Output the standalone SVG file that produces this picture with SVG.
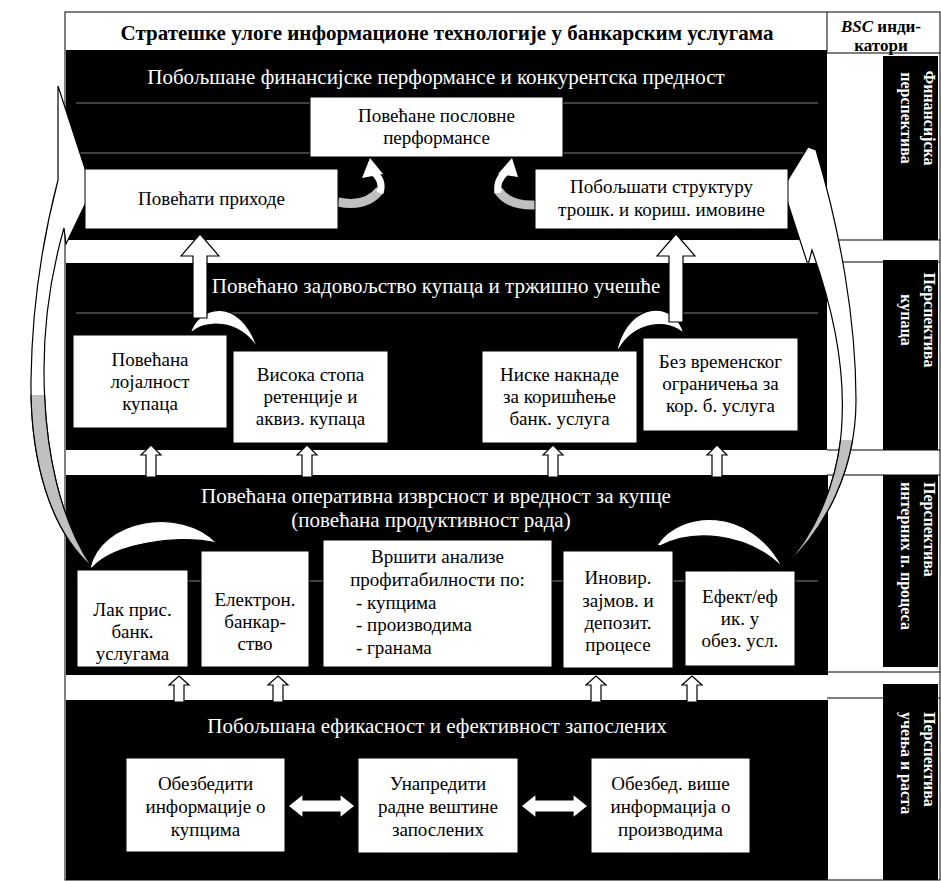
<svg xmlns="http://www.w3.org/2000/svg" width="941" height="881" viewBox="0 0 941 881">
<style>
.f{font-family:"Liberation Serif","Times New Roman",serif}
.ttl{font-size:21px;fill:#fff;text-anchor:middle}
.bt{font-size:19px;fill:#000;text-anchor:middle}
.bl{font-size:19px;fill:#000;text-anchor:start}
.bx{fill:#fff;stroke:#000;stroke-width:1}
.lbl{font-size:16px;font-weight:bold;fill:#fff}
.gl{stroke:#808080;stroke-width:1}
.ln{stroke:#000;stroke-width:1}
.wa{fill:#fff;stroke:#000;stroke-width:1.2;stroke-linejoin:miter}
.gr{fill:#c0c0c0;stroke:#000;stroke-width:1.2}
</style>
<defs>
<clipPath id="cl"><rect x="0" y="395" width="120" height="200"/></clipPath>
<clipPath id="cr"><rect x="760" y="440" width="120" height="160"/></clipPath>
</defs>
<rect x="0" y="0" width="941" height="881" fill="#fff"/>
<g id="frame">
<rect x="65" y="12" width="875" height="868" fill="none" class="ln"/>
<line x1="827" y1="12" x2="827" y2="53" class="ln"/>
<line x1="827" y1="53" x2="940" y2="53" class="ln"/>
<text class="f" x="447" y="40" font-size="21" font-weight="bold" text-anchor="middle">Стратешке улоге информационе технологије у банкарским услугама</text>
<text class="f" x="881" y="32" font-size="17" font-weight="bold" text-anchor="middle"><tspan font-style="italic">BSC</tspan> инди-</text>
<text class="f" x="881" y="51" font-size="17" font-weight="bold" text-anchor="middle">катори</text>
<rect x="66" y="50" width="761" height="190" fill="#000"/>
<rect x="66" y="263" width="761" height="187" fill="#000"/>
<rect x="66" y="475" width="762" height="200" fill="#000"/>
<rect x="66" y="700" width="762" height="180" fill="#000"/>
<rect x="883" y="56" width="55" height="184" fill="#000"/>
<rect x="883" y="260" width="55" height="190" fill="#000"/>
<rect x="883" y="475" width="55" height="192" fill="#000"/>
<rect x="883" y="684" width="55" height="196" fill="#000"/>
<line x1="827" y1="240" x2="940" y2="240" class="ln"/>
<line x1="827" y1="262" x2="940" y2="262" class="ln"/>
<line x1="827" y1="450" x2="940" y2="450" class="ln"/>
<line x1="827" y1="475" x2="940" y2="475" class="ln"/>
<line x1="827" y1="672" x2="940" y2="672" class="ln"/>
<line x1="827" y1="698" x2="940" y2="698" class="ln"/>
<line x1="76" y1="103" x2="818" y2="103" class="gl"/>
<line x1="76" y1="153" x2="818" y2="153" class="gl"/>
<line x1="76" y1="313" x2="818" y2="313" class="gl"/>
<line x1="76" y1="581" x2="818" y2="581" class="gl"/>
</g>
<g id="labels" class="f">
<text class="lbl" transform="translate(924,118) rotate(90)" text-anchor="middle">Финансијска</text>
<text class="lbl" transform="translate(901,118) rotate(90)" text-anchor="middle">перспектива</text>
<text class="lbl" transform="translate(924,320) rotate(90)" text-anchor="middle">Перспектива</text>
<text class="lbl" transform="translate(901,320) rotate(90)" text-anchor="middle">купаца</text>
<text class="lbl" transform="translate(924,482) rotate(90)">Перспектива</text>
<text class="lbl" transform="translate(901,482) rotate(90)">интерних п. процеса</text>
<text class="lbl" transform="translate(924,712) rotate(90)">Перспектива</text>
<text class="lbl" transform="translate(901,712) rotate(90)">учења и раста</text>
</g>
<g id="titles" class="f">
<text class="ttl" x="436" y="84">Побољшане финансијске перформансе и конкурентска предност</text>
<text class="ttl" x="436" y="293">Повећано задовољство купаца и тржишно учешће</text>
<text class="ttl" x="436" y="503">Повећана оперативна изврсност и вредност за купце</text>
<text class="ttl" x="431" y="527">(повећана продуктивност рада)</text>
<text class="ttl" x="437" y="733">Побољшана ефикасност и ефективност запослених</text>
</g>
<g id="connectors">
<path class="wa" d="M 58,86 L 92,190 L 66,244 L 64,228 C 52,270 44,320 44,370 C 44,450 60,520 92,567 C 50,530 30,460 31,380 C 32,300 45,230 58,180 Z"/>
<path class="gr" clip-path="url(#cl)" d="M 64,228 C 52,270 44,320 44,370 C 44,450 60,520 92,567 C 50,530 30,460 31,380 C 32,300 45,230 58,180 Z"/>
<path class="wa" d="M 808,147 L 783,188 L 808,265 L 812,250 C 830,300 845,360 842,420 C 840,480 815,535 783,568 C 825,530 856,470 856,400 C 856,320 840,230 816,150 Z"/>
<path class="gr" clip-path="url(#cr)" d="M 812,250 C 830,300 845,360 842,420 C 840,480 815,535 783,568 C 825,530 856,470 856,400 C 856,320 840,230 816,150 Z"/>
<path d="M 338,202 Q 366,208 380,190" stroke="#c0c0c0" stroke-width="9" fill="none"/>
<path d="M 380,193 Q 384,180 373,172" stroke="#fff" stroke-width="7" fill="none"/>
<polygon points="362,178 370,158 383,174" fill="#fff"/>
<path d="M 535,205 Q 508,206 498,190" stroke="#c0c0c0" stroke-width="9" fill="none"/>
<path d="M 498,193 Q 496,180 506,172" stroke="#fff" stroke-width="7" fill="none"/>
<polygon points="498,174 512,158 518,177" fill="#fff"/>
<path class="wa" d="M 190,334 C 198,305 240,295 258,349 C 240,320 205,318 190,334 Z"/>
<polygon class="wa" points="200,234 219,256 207,256 207,318 193,318 193,256 181,256"/>
<path class="wa" d="M 617,349 C 630,300 675,300 684,334 C 668,318 635,322 619,349 Z"/>
<polygon class="wa" points="676,234 695,256 683,256 683,322 669,322 669,256 657,256"/>
<path class="wa" d="M 90,568 C 100,520 180,505 217,543 C 180,535 115,542 92,568 Z"/>
<path class="wa" d="M 657,545 C 680,510 750,505 783,568 C 745,530 690,530 660,546 Z"/>
<g id="smallup1">
<polygon class="wa" points="151,445 161,455 156,455 156,477 146,477 146,455 141,455"/>
<polygon class="wa" points="307,445 317,455 312,455 312,477 302,477 302,455 297,455"/>
<polygon class="wa" points="553,445 563,455 558,455 558,477 548,477 548,455 543,455"/>
<polygon class="wa" points="717,445 727,455 722,455 722,477 712,477 712,455 707,455"/>
</g>
<g id="smallup2">
<polygon class="wa" points="179,676 189,685 184,685 184,702 174,702 174,685 169,685"/>
<polygon class="wa" points="278,676 288,685 283,685 283,702 273,702 273,685 268,685"/>
<polygon class="wa" points="596,676 606,685 601,685 601,702 591,702 591,685 586,685"/>
<polygon class="wa" points="692,676 702,685 697,685 697,702 687,702 687,685 682,685"/>
</g>
<polygon class="wa" points="288,806 303,794 303,800 340,800 340,794 355,806 340,818 340,812 303,812 303,818"/>
<polygon class="wa" points="521,806 536,794 536,800 573,800 573,794 588,806 573,818 573,812 536,812 536,818"/>
</g>
<g id="n1" class="f"><rect class="bx" x="310" y="97" width="253" height="60"/><text class="bt" x="436.5" y="122">Повећане пословне</text><text class="bt" x="436.5" y="144">перформансе</text></g>
<g id="n2" class="f"><rect class="bx" x="85" y="169" width="253" height="60"/><text class="bt" x="211.5" y="205">Повећати приходе</text></g>
<g id="n3" class="f"><rect class="bx" x="535" y="169" width="253" height="60"/><text class="bt" x="661.5" y="193">Побољшати структуру</text><text class="bt" x="661.5" y="216">трошк. и кориш. имовине</text></g>
<g id="n4" class="f"><rect class="bx" x="73" y="335" width="154" height="93"/><text class="bt" x="150" y="366">Повећана</text><text class="bt" x="150" y="388">лојалност</text><text class="bt" x="150" y="410">купаца</text></g>
<g id="n5" class="f"><rect class="bx" x="233" y="351" width="155" height="92"/><text class="bt" x="310.5" y="381">Висока стопа</text><text class="bt" x="310.5" y="403">ретенције и</text><text class="bt" x="310.5" y="425">аквиз. купаца</text></g>
<g id="n6" class="f"><rect class="bx" x="482" y="351" width="155" height="92"/><text class="bt" x="559.5" y="381">Ниске накнаде</text><text class="bt" x="559.5" y="403">за коришћење</text><text class="bt" x="559.5" y="425">банк. услуга</text></g>
<g id="n7" class="f"><rect class="bx" x="643" y="338" width="155" height="93"/><text class="bt" x="720.5" y="368">Без временског</text><text class="bt" x="720.5" y="390">ограничења за</text><text class="bt" x="720.5" y="412">кор. б. услуга</text></g>
<g id="n8" class="f"><rect class="bx" x="77" y="570" width="111" height="97"/><text class="bt" x="132.5" y="616">Лак прис.</text><text class="bt" x="132.5" y="638">банк.</text><text class="bt" x="132.5" y="660">услугама</text></g>
<g id="n9" class="f"><rect class="bx" x="201" y="551" width="108" height="116"/><text class="bt" x="255" y="606">Електрон.</text><text class="bt" x="255" y="628">банкар-</text><text class="bt" x="255" y="650">ство</text></g>
<g id="n10" class="f"><rect class="bx" x="323" y="540" width="229" height="127"/><text class="bt" x="437.5" y="563">Вршити анализе</text><text class="bt" x="437.5" y="586">профитабилности по:</text><text class="bl" x="356" y="609">- купцима</text><text class="bl" x="356" y="631">- производима</text><text class="bl" x="356" y="654">- гранама</text></g>
<g id="n11" class="f"><rect class="bx" x="563" y="551" width="110" height="117"/><text class="bt" x="618" y="584">Иновир.</text><text class="bt" x="618" y="607">зајмов. и</text><text class="bt" x="618" y="629">депозит.</text><text class="bt" x="618" y="651">процесе</text></g>
<g id="n12" class="f"><rect class="bx" x="685" y="571" width="110" height="95"/><text class="bt" x="740" y="603">Ефект/еф</text><text class="bt" x="740" y="625">ик. у</text><text class="bt" x="740" y="647">обез. усл.</text></g>
<g id="n13" class="f"><rect class="bx" x="126" y="758" width="159" height="94"/><text class="bt" x="205.5" y="790">Обезбедити</text><text class="bt" x="205.5" y="813">информације о</text><text class="bt" x="205.5" y="836">купцима</text></g>
<g id="n14" class="f"><rect class="bx" x="358" y="758" width="160" height="95"/><text class="bt" x="438" y="790">Унапредити</text><text class="bt" x="438" y="813">радне вештине</text><text class="bt" x="438" y="836">запослених</text></g>
<g id="n15" class="f"><rect class="bx" x="591" y="758" width="159" height="95"/><text class="bt" x="670.5" y="790">Обезбед. више</text><text class="bt" x="670.5" y="813">информација о</text><text class="bt" x="670.5" y="836">производима</text></g>
</svg>
